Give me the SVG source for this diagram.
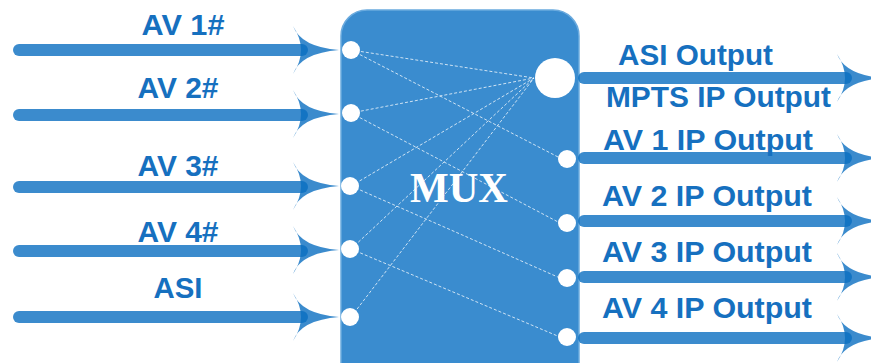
<svg xmlns="http://www.w3.org/2000/svg" width="871" height="363" viewBox="0 0 871 363">
<defs>
<style>
.ln{stroke:#0a6ec0;stroke-opacity:0.8;stroke-width:12;stroke-linecap:round;fill:none}
.hd{fill:#0a6ec0;fill-opacity:0.8}
.lbl{font-family:"Liberation Sans",Arial,sans-serif;font-weight:bold;font-size:30px;fill:#1670bf}
.dash{stroke:#ffffff;stroke-opacity:0.75;stroke-width:1;stroke-dasharray:3 2;fill:none}
.port{fill:#ffffff}
</style>
<path id="head" d="M-46,-24 Q-38,-3 0,0 Q-38,3 -46,24 Q-30,0 -46,-24 Z"/>
</defs>
<g id="mux">
<rect x="341" y="10" width="238" height="380" rx="26" fill="#3a8ccf" stroke="#6aaade" stroke-width="1.5"/>
<text x="459" y="202" text-anchor="middle" textLength="98" lengthAdjust="spacingAndGlyphs" font-family="'Liberation Serif','Times New Roman',serif" font-weight="bold" font-size="43" fill="#ffffff">MUX</text>
</g>
<g id="connectors">
<line class="dash" x1="351" y1="50" x2="534" y2="78"/>
<line class="dash" x1="351" y1="50" x2="560" y2="158"/>
<line class="dash" x1="351" y1="113" x2="534" y2="78"/>
<line class="dash" x1="351" y1="113" x2="560" y2="223"/>
<line class="dash" x1="351" y1="186" x2="534" y2="78"/>
<line class="dash" x1="351" y1="186" x2="560" y2="278"/>
<line class="dash" x1="351" y1="249" x2="534" y2="78"/>
<line class="dash" x1="351" y1="249" x2="560" y2="337"/>
<line class="dash" x1="351" y1="317" x2="534" y2="78"/>
<line class="ln" x1="19" y1="50" x2="302" y2="50"/>
<use href="#head" class="hd" transform="translate(339,50)"/>
<line class="ln" x1="19" y1="115" x2="302" y2="115"/>
<use href="#head" class="hd" transform="translate(339,114)"/>
<line class="ln" x1="19" y1="187" x2="302" y2="187"/>
<use href="#head" class="hd" transform="translate(339,186)"/>
<line class="ln" x1="19" y1="251" x2="302" y2="251"/>
<use href="#head" class="hd" transform="translate(339,250)"/>
<line class="ln" x1="19" y1="317" x2="302" y2="317"/>
<use href="#head" class="hd" transform="translate(339,317)"/>
<line class="ln" x1="584" y1="78" x2="846" y2="78"/>
<use href="#head" class="hd" transform="translate(883,78)"/>
<line class="ln" x1="584" y1="158" x2="846" y2="158"/>
<use href="#head" class="hd" transform="translate(883,158)"/>
<line class="ln" x1="584" y1="221" x2="846" y2="221"/>
<use href="#head" class="hd" transform="translate(883,221)"/>
<line class="ln" x1="584" y1="277" x2="846" y2="277"/>
<use href="#head" class="hd" transform="translate(883,277)"/>
<line class="ln" x1="584" y1="338" x2="846" y2="338"/>
<use href="#head" class="hd" transform="translate(883,338)"/>
</g>
<g id="ports">
<circle class="port" cx="351" cy="50" r="9"/>
<circle class="port" cx="351" cy="113" r="9"/>
<circle class="port" cx="350" cy="186" r="9"/>
<circle class="port" cx="350" cy="249" r="9"/>
<circle class="port" cx="350" cy="317" r="9"/>
<circle class="port" cx="555" cy="78" r="20"/>
<circle class="port" cx="567" cy="159" r="9"/>
<circle class="port" cx="567" cy="223" r="9"/>
<circle class="port" cx="567" cy="278" r="9"/>
<circle class="port" cx="567" cy="337" r="9"/>
</g>
<g id="labels">
<text class="lbl" x="183" y="35" text-anchor="middle" textLength="83" lengthAdjust="spacingAndGlyphs">AV 1#</text>
<text class="lbl" x="178" y="98" text-anchor="middle" textLength="81" lengthAdjust="spacingAndGlyphs">AV 2#</text>
<text class="lbl" x="178" y="176" text-anchor="middle" textLength="81" lengthAdjust="spacingAndGlyphs">AV 3#</text>
<text class="lbl" x="178" y="242" text-anchor="middle" textLength="81" lengthAdjust="spacingAndGlyphs">AV 4#</text>
<text class="lbl" x="178" y="298" text-anchor="middle" textLength="49" lengthAdjust="spacingAndGlyphs">ASI</text>
<text class="lbl" x="618" y="65" textLength="155" lengthAdjust="spacingAndGlyphs">ASI Output</text>
<text class="lbl" x="606" y="107" textLength="225" lengthAdjust="spacingAndGlyphs">MPTS IP Output</text>
<text class="lbl" x="603" y="150" textLength="210" lengthAdjust="spacingAndGlyphs">AV 1 IP Output</text>
<text class="lbl" x="602" y="206" textLength="210" lengthAdjust="spacingAndGlyphs">AV 2 IP Output</text>
<text class="lbl" x="602" y="262" textLength="210" lengthAdjust="spacingAndGlyphs">AV 3 IP Output</text>
<text class="lbl" x="602" y="318" textLength="210" lengthAdjust="spacingAndGlyphs">AV 4 IP Output</text>
</g>
</svg>
